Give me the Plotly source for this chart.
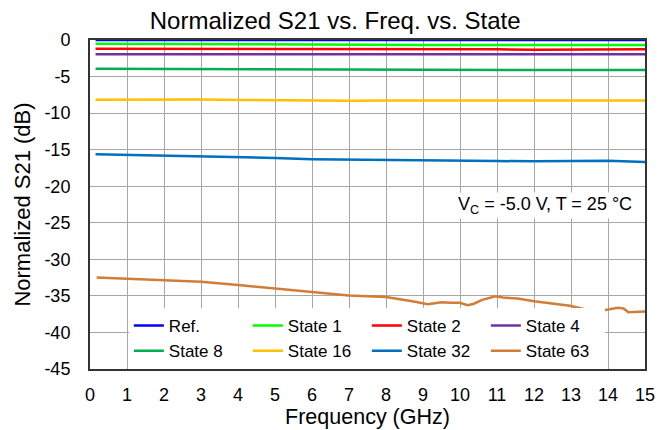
import plotly.graph_objects as go

# Flat states (read at integer frequencies)
freq = [0.15, 1, 2, 3, 4, 5, 6, 7, 8, 9, 10, 11, 12, 13, 14, 15]
ref = [0, 0, 0, 0, 0, 0, 0, 0, 0, 0, 0, 0, 0, 0, 0, 0]
state1 = [-0.52, -0.54, -0.57, -0.6, -0.63, -0.66, -0.7, -0.71, -0.7, -0.68, -0.68, -0.7, -0.72, -0.71, -0.69, -0.68]
state2 = [-1.2, -1.2, -1.19, -1.2, -1.22, -1.25, -1.27, -1.27, -1.26, -1.25, -1.25, -1.27, -1.32, -1.33, -1.3, -1.28]
state4 = [-1.94, -1.94, -1.93, -1.93, -1.94, -1.95, -1.96, -1.97, -1.96, -1.95, -1.95, -1.97, -1.98, -1.98, -1.96, -1.96]
state8 = [-3.94, -3.96, -3.98, -4.0, -4.03, -4.06, -4.08, -4.08, -4.07, -4.06, -4.08, -4.1, -4.12, -4.12, -4.11, -4.12]
state16 = [-8.18, -8.16, -8.15, -8.15, -8.2, -8.26, -8.3, -8.3, -8.28, -8.28, -8.3, -8.32, -8.32, -8.3, -8.28, -8.28]
state32 = [-15.64, -15.72, -15.78, -15.87, -16.0, -16.14, -16.3, -16.37, -16.37, -16.42, -16.5, -16.55, -16.6, -16.6, -16.5, -16.68]

# State 63 read at its visible bends
freq63 = [0.18, 1, 2, 2.24, 3, 4, 5, 5.33, 6, 6.65, 7, 8, 8.43, 8.75, 9.13, 9.26, 9.5, 9.76, 10,
          10.2, 10.36, 10.6, 10.96, 11.16, 11.56, 12, 12.57, 12.97, 13.57, 13.77, 14.27, 14.42, 14.55, 15]
state63 = [-32.5, -32.64, -32.8, -32.86, -33.05, -33.5, -34.0, -34.2, -34.5, -34.86, -34.95, -35.14, -35.45,
           -35.77, -36.14, -36.05, -35.86, -35.95, -35.95, -36.27, -36.1, -35.55, -35.05, -35.23, -35.36,
           -35.73, -36.1, -36.36, -37.05, -37.05, -36.64, -36.73, -37.23, -37.14]

names = ["Ref.", "State 1", "State 2", "State 4", "State 8", "State 16", "State 32", "State 63"]
colors = ["#0000FF", "#00FF00", "#FF0000", "#7030A0", "#00B050", "#FFC000", "#0070C0", "#D27D37"]
series = [(freq, ref), (freq, state1), (freq, state2), (freq, state4), (freq, state8),
          (freq, state16), (freq, state32), (freq63, state63)]

x_ticks = list(range(0, 16))
y_ticks = list(range(0, -50, -5))

fig = go.Figure()
for name, color, (xs, ys) in zip(names, colors, series):
    fig.add_trace(go.Scatter(x=xs, y=ys, name=name, mode="lines",
                             line=dict(color=color, width=2.5)))

font_family = "Liberation Sans, Arial, sans-serif"
fig.update_layout(
    width=661, height=422,
    margin=dict(l=82, r=24, t=32, b=61, autoexpand=False),
    paper_bgcolor="white", plot_bgcolor="white",
    font=dict(family=font_family, color="black"),
    title=dict(text="Normalized S21 vs. Freq. vs. State", x=0.495, xanchor="center",
               xref="container", y=0.971, yanchor="middle", font=dict(size=24, family=font_family)),
    showlegend=True,
    legend=dict(orientation="h", x=0.07, xanchor="left", y=0.0, yanchor="bottom",
                bgcolor="white", borderwidth=0, entrywidth=74, entrywidthmode="pixels",
                font=dict(size=17, family=font_family), tracegroupgap=0,
                itemwidth=30),
    xaxis=dict(range=[0, 15], tickvals=x_ticks, ticktext=[str(v) for v in x_ticks],
               showgrid=True, gridcolor="#A6A6A6", gridwidth=1,
               showline=True, linecolor="#333333", linewidth=2, mirror=True,
               ticks="", zeroline=False, tickfont=dict(size=18), ticklabelstandoff=8,
               title=dict(text="Frequency (GHz)", font=dict(size=21.5), standoff=2)),
    yaxis=dict(range=[-45, 0], tickvals=y_ticks, ticktext=[str(v) for v in y_ticks],
               showgrid=True, gridcolor="#A6A6A6", gridwidth=1,
               showline=True, linecolor="#333333", linewidth=2, mirror=True,
               ticks="", zeroline=False, tickfont=dict(size=18), ticklabelstandoff=14,
               title=dict(text="Normalized S21 (dB)", font=dict(size=22), standoff=8)),
    annotations=[dict(x=14.7, y=-22.65, xref="x", yref="y", xanchor="right", yanchor="middle",
                      text="V<sub>C</sub> = -5.0 V, T = 25 °C", showarrow=False,
                      bgcolor="white", font=dict(size=18, family=font_family))],
)

fig.write_html("out.html")
